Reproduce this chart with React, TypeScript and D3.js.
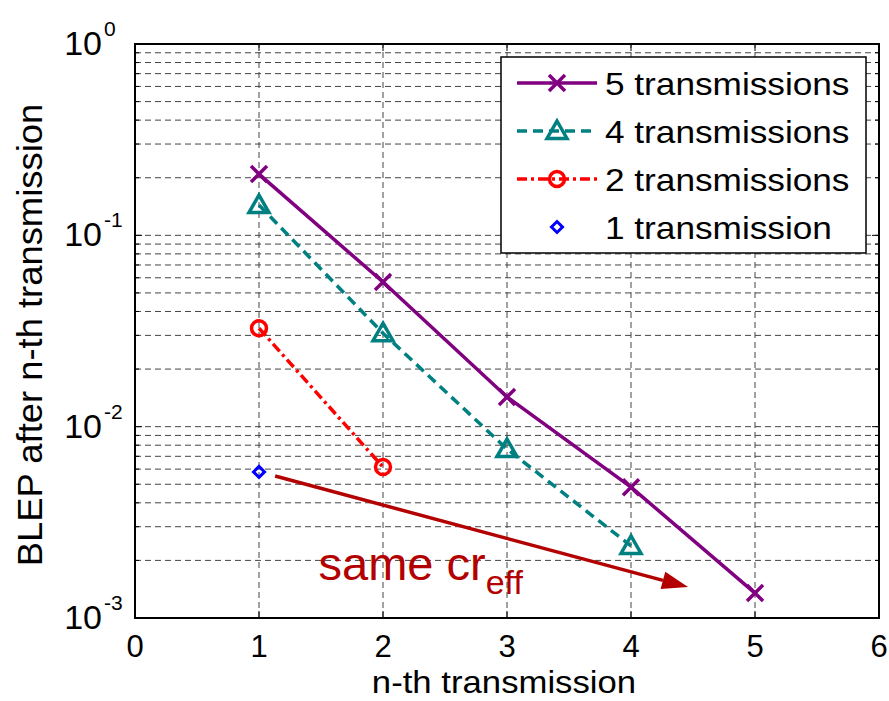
import React from 'react';
import * as d3 from 'd3';

// data
const transmissions = [1, 2, 3, 4, 5];
const blep5 = [0.209, 0.057, 0.0143, 0.00483, 0.00135];
const blep4 = [0.144, 0.0308, 0.00764, 0.00238];
const blep2 = [0.0327, 0.00615];
const blep1 = [0.0058];
const xTicks = [0, 1, 2, 3, 4, 5, 6];
const yDecades = [-3, -2, -1, 0];
const legendLabels = ['5 transmissions', '4 transmissions', '2 transmissions', '1 transmission'];

// annotation arrow in data units
const arrowFrom = [1.13, 0.00552];
const arrowTo = [4.46, 0.00145];
const noteAt = [1.48, 0.00158];

const W = 889;
const H = 701;
const margin = { top: 44, right: 10, bottom: 83, left: 135 };
const FONT = 'Liberation Sans, Arial, sans-serif';
const ANNOT = '#b30000';

type Series = {
  label: string;
  values: number[];
  color: string;
  dash: string;
  marker: 'x' | 'tri' | 'circle' | 'diamond';
  line: boolean;
};

const series: Series[] = [
  { label: legendLabels[0], values: blep5, color: '#800080', dash: 'none', marker: 'x', line: true },
  { label: legendLabels[1], values: blep4, color: '#008080', dash: '10,6', marker: 'tri', line: true },
  { label: legendLabels[2], values: blep2, color: '#ff0000', dash: '10,4,3,4', marker: 'circle', line: true },
  { label: legendLabels[3], values: blep1, color: '#0000ff', dash: 'none', marker: 'diamond', line: false },
];

// the original font runs a bit wider than Liberation Sans
const Wide = ({ x, y, size, sx = 1.1, anchor = 'start', rotate = 0, children, fill = '#000' }: any) => (
  <g transform={`translate(${x},${y}) rotate(${rotate}) scale(${sx},1)`}>
    <text x={0} y={0} fontSize={size} textAnchor={anchor} fill={fill}>{children}</text>
  </g>
);

const Marker = ({ kind, x, y, color }: { kind: string; x: number; y: number; color: string }) => {
  if (kind === 'x') {
    const s = 8;
    return (
      <path d={`M${x - s},${y - s}L${x + s},${y + s}M${x - s},${y + s}L${x + s},${y - s}`}
        stroke={color} strokeWidth={3.5} fill="none" />
    );
  }
  if (kind === 'tri') {
    const s = 10;
    return (
      <path d={`M${x},${y - s}L${x + s},${y + s * 0.75}L${x - s},${y + s * 0.75}Z`}
        stroke={color} strokeWidth={3.5} fill="none" strokeLinejoin="miter" />
    );
  }
  if (kind === 'circle') {
    return <circle cx={x} cy={y} r={7.5} stroke={color} strokeWidth={3.5} fill="none" />;
  }
  const s = 5.5;
  return (
    <path d={`M${x},${y - s}L${x + s},${y}L${x},${y + s}L${x - s},${y}Z`}
      stroke={color} strokeWidth={3} fill="none" />
  );
};

export default function App() {
  const x = d3.scaleLinear().domain([0, 6]).range([margin.left, W - margin.right]);
  const y = d3.scaleLog().domain([1e-3, 1]).range([H - margin.bottom, margin.top]);
  const [x0, x1] = x.range();
  const [yb, yt] = y.range();

  const minor: number[] = [];
  yDecades.slice(0, -1).forEach((d) => {
    for (let m = 2; m <= 9; m++) minor.push(m * Math.pow(10, d));
  });
  const major = yDecades.map((d) => Math.pow(10, d));

  const line = d3.line<number>()
    .x((_, i) => x(transmissions[i]))
    .y((v) => y(v));

  const ax1 = x(arrowFrom[0]), ay1 = y(arrowFrom[1]);
  const ax2 = x(arrowTo[0]), ay2 = y(arrowTo[1]);
  const ang = Math.atan2(ay2 - ay1, ax2 - ax1);
  const headL = 26, headW = 9;
  const bx = ax2 - headL * Math.cos(ang), by = ay2 - headL * Math.sin(ang);
  const px = -Math.sin(ang) * headW, py = Math.cos(ang) * headW;

  const lg = { x: 501, y: 57, w: 365, h: 196, row: 48 };

  return (
    <svg width={W} height={H} style={{ position: 'absolute', left: 0, top: 0, background: '#fff' }}
      fontFamily={FONT}>
      <rect x={0} y={0} width={W} height={H} fill="#fff" />
      {/* grid */}
      <g stroke="#444" strokeWidth={1} strokeDasharray="6,4" fill="none">
        {xTicks.slice(1, -1).map((t) => (
          <line key={'gx' + t} x1={x(t)} x2={x(t)} y1={yb} y2={yt} />
        ))}
        {minor.concat(major.slice(1, -1)).map((v) => (
          <line key={'gy' + v} x1={x0} x2={x1} y1={y(v)} y2={y(v)} />
        ))}
      </g>
      {/* ticks on all sides */}
      <g stroke="#000" strokeWidth={1}>
        {xTicks.map((t) => (
          <g key={'tx' + t}>
            <line x1={x(t)} x2={x(t)} y1={yb} y2={yb - 7} />
            <line x1={x(t)} x2={x(t)} y1={yt} y2={yt + 7} />
          </g>
        ))}
        {major.map((v) => (
          <g key={'ty' + v}>
            <line x1={x0} x2={x0 + 7} y1={y(v)} y2={y(v)} />
            <line x1={x1} x2={x1 - 7} y1={y(v)} y2={y(v)} />
          </g>
        ))}
        {minor.map((v) => (
          <g key={'tm' + v}>
            <line x1={x0} x2={x0 + 4} y1={y(v)} y2={y(v)} />
            <line x1={x1} x2={x1 - 4} y1={y(v)} y2={y(v)} />
          </g>
        ))}
      </g>
      <rect x={x0} y={yt} width={x1 - x0} height={yb - yt} fill="none" stroke="#000" strokeWidth={2} />

      {/* series */}
      {series.map((s) => (
        <g key={s.label}>
          {s.line && (
            <path d={line(s.values) || ''} fill="none" stroke={s.color} strokeWidth={3.5}
              strokeDasharray={s.dash} />
          )}
          {s.values.map((v, i) => (
            <Marker key={i} kind={s.marker} x={x(transmissions[i])} y={y(v)} color={s.color} />
          ))}
        </g>
      ))}

      {/* annotation */}
      <line x1={ax1} y1={ay1} x2={bx} y2={by} stroke={ANNOT} strokeWidth={3.5} />
      <path d={`M${ax2},${ay2}L${bx + px},${by + py}L${bx - px},${by - py}Z`} fill={ANNOT} />
      <text x={x(noteAt[0])} y={y(noteAt[1])} fill={ANNOT} fontSize={47}>
        same cr<tspan fontSize={34} dy={14}>eff</tspan>
      </text>

      {/* x tick labels */}
      {xTicks.map((t) => (
        <text key={'lx' + t} x={x(t)} y={yb + 39} textAnchor="middle" fontSize={31}>{t}</text>
      ))}
      {/* y tick labels */}
      {yDecades.map((d) => (
        <text key={'ly' + d} x={x0 - 33} y={y(Math.pow(10, d)) + 11} textAnchor="end" fontSize={34}>
          10
        </text>
      ))}
      {yDecades.map((d) => (
        <text key={'le' + d} x={x0 - 31} y={y(Math.pow(10, d)) - 8} textAnchor="start" fontSize={21}>
          {d === 0 ? '0' : `-${-d}`}
        </text>
      ))}

      {/* axis titles */}
      <Wide x={(x0 + x1) / 2 - 3} y={H - 8} size={31} sx={1.12} anchor="middle">n-th transmission</Wide>
      <Wide x={42} y={335} size={35} sx={1.04} anchor="middle" rotate={-90}>
        BLEP after n-th transmission
      </Wide>

      {/* legend */}
      <rect x={lg.x} y={lg.y} width={lg.w} height={lg.h} fill="#fff" stroke="#000" strokeWidth={1.5} />
      {series.map((s, i) => {
        const cy = lg.y + 26 + i * lg.row;
        return (
          <g key={'lg' + s.label}>
            {s.line && (
              <line x1={lg.x + 16} x2={lg.x + 96} y1={cy} y2={cy} stroke={s.color} strokeWidth={3.5}
                strokeDasharray={s.dash} />
            )}
            <Marker kind={s.marker} x={lg.x + 56} y={cy} color={s.color} />
            <Wide x={lg.x + 104} y={cy + 12} size={32} sx={1.1}>{s.label}</Wide>
          </g>
        );
      })}
    </svg>
  );
}
